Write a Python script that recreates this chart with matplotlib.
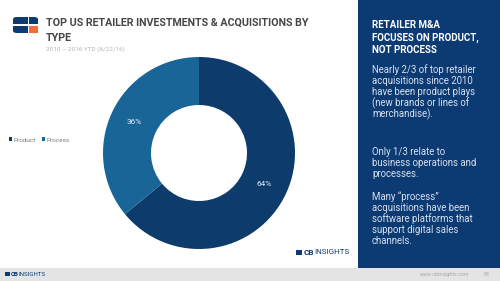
import matplotlib.pyplot as plt
from matplotlib.patches import FancyBboxPatch, Rectangle

# chart data
categories = ["Product", "Process"]
shares = [64, 36]
colors = ["#0d3b6c", "#1a6598"]

title_lines = ["TOP US RETAILER INVESTMENTS & ACQUISITIONS BY", "TYPE"]
subtitle = "2010 \u2013 2016 YTD (8/22/16)"
panel_header = ["RETAILER M&A", "FOCUSES ON PRODUCT,", "NOT PROCESS"]
panel_body = [
    ["Nearly 2/3 of top retailer", "acquisitions since 2010", "have been product plays",
     "(new brands or lines of", "merchandise)."],
    ["Only 1/3 relate to", "business operations and", "processes."],
    ["Many \u201cprocess\u201d", "acquisitions have been", "software platforms that",
     "support digital sales", "channels."],
]

W, H = 500, 281
fig = plt.figure(figsize=(5.0, 2.81), dpi=100)
fig.patch.set_facecolor("white")


def fx(px):
    return px / W


def fy(py):
    return 1 - py / H


# CB Insights wordmark: bold "CB" followed directly by "INSIGHTS"
def cb_mark(x, y, size):
    fig.patches.append(Rectangle((fx(x), fy(y + size * 0.45)), size * 1.05 / W, size * 0.85 / H,
                                 transform=fig.transFigure, facecolor="#0c3a72", edgecolor="none"))
    cb = fig.text(fx(x + size * 1.25), fy(y), "CB", fontsize=size, fontweight="bold", color="#0c3a72",
                  family="Roboto", va="center", ha="left")
    fig.add_artist(plt.Annotation("INSIGHTS", xy=(1, 0.5), xycoords=cb, xytext=(0.1, 0),
                                  textcoords="offset points", va="center", ha="left",
                                  fontsize=size, color="#0c3a72", family="Roboto"))


# right panel and footer band
fig.patches.append(Rectangle((fx(358), fy(268)), 1 - fx(358), 268 / H, transform=fig.transFigure,
                             facecolor="#0c3a72", edgecolor="none", zorder=0))
fig.patches.append(Rectangle((0, 0), 1, 13 / H, transform=fig.transFigure,
                             facecolor="#e4e4e4", edgecolor="none", zorder=0))

# logo in the title
fig.patches.append(FancyBboxPatch((fx(13), fy(33)), 25 / W, 16 / H, boxstyle="round,pad=0,rounding_size=0.008",
                                  transform=fig.transFigure, facecolor="#0c3a72", edgecolor="none"))
fig.patches.append(Rectangle((fx(29), fy(32.5)), 8.5 / W, 6.5 / H, transform=fig.transFigure,
                             facecolor="#f26b3a", edgecolor="none"))
fig.patches.append(Rectangle((fx(13), fy(26)), 25 / W, 1.6 / H, transform=fig.transFigure,
                             facecolor="white", edgecolor="none"))
fig.patches.append(Rectangle((fx(27.5), fy(33)), 1.6 / W, 16 / H, transform=fig.transFigure,
                             facecolor="white", edgecolor="none"))

fig.text(fx(46), fy(23), title_lines[0], fontsize=7.7, fontweight="bold", color="#464646",
         family="Roboto", va="center", ha="left")
fig.text(fx(46), fy(38), title_lines[1], fontsize=7.7, fontweight="bold", color="#464646",
         family="Roboto", va="center", ha="left")
fig.text(fx(46), fy(49), subtitle, fontsize=4.6, color="#b5b5b5", family="Roboto", va="center", ha="left")

# donut
ax = fig.add_axes([fx(199 - 96), fy(153 + 96), 192 / W, 192 / H])
wedges, texts, autotexts = ax.pie(shares, colors=colors, startangle=90, counterclock=False,
                                  autopct="%d%%", pctdistance=0.75, radius=1.0,
                                  wedgeprops=dict(width=0.5, edgecolor="none"))
for t in autotexts:
    t.set_color("#e8eef6")
    t.set_fontsize(6)
    t.set_family("Roboto")
ax.set_xlim(-1, 1)
ax.set_ylim(-1, 1)
ax.set_aspect("equal")
ax.axis("off")

fig.legend(wedges, categories, loc="center left", bbox_to_anchor=(fx(3), fy(140)), ncol=2, frameon=False,
           handlelength=0.55, handleheight=0.55, handletextpad=0.15, columnspacing=1.0,
           prop={"family": "Roboto", "size": 4.6}, labelcolor="#7a7a7a")

# CB Insights marks
cb_mark(296, 252.5, 5.8)
cb_mark(5, 274, 4.4)
fig.text(fx(470), fy(274.5), "www.cbinsights.com", fontsize=3.8, color="#a8a8a8", family="Roboto",
         va="center", ha="right")
fig.text(fx(490), fy(274.5), "83", fontsize=3.8, color="#a8a8a8", family="Roboto", va="center", ha="right")

# right panel text
for i, line in enumerate(panel_header):
    fig.text(fx(372), fy(25 + i * 12.5), line, fontsize=7.0, fontweight="bold", color="white",
             family="Roboto", va="center", ha="left")
body_starts = [70, 152, 197]
for start, block in zip(body_starts, panel_body):
    for i, line in enumerate(block):
        fig.text(fx(372), fy(start + i * 11), line, fontsize=6.9, color="#d6e0ee", family="Roboto",
                 va="center", ha="left")

fig.savefig("out.png", dpi=100, facecolor=fig.get_facecolor())
